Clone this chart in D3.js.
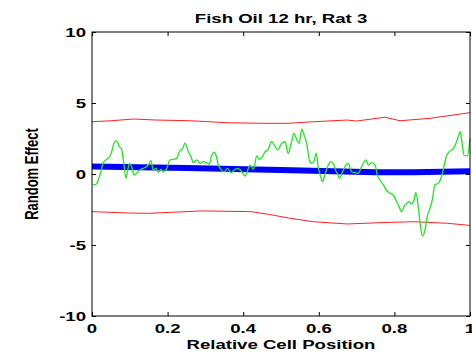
<!DOCTYPE html>
<html>
<head>
<meta charset="utf-8">
<script src="https://cdn.jsdelivr.net/npm/d3@7"></script>
<style>
  body { margin: 0; background: #fff; }
  text { font-family: "Liberation Sans", Arial, sans-serif; font-weight: bold; fill: #000; }
</style>
</head>
<body>
<script>
// tick labels
var xTicks = [0, 0.2, 0.4, 0.6, 0.8, 1];
var yTicks = [-10, -5, 0, 5, 10];

// fitted random effect (thick blue)
var fitX = [0, 0.25, 0.5, 0.75, 0.85, 1];
var fitY = [0.53, 0.42, 0.28, 0.13, 0.13, 0.19];

// upper / lower bands (red)
var upperX = [0, 0.05, 0.11, 0.17, 0.26, 0.36, 0.45, 0.52, 0.585, 0.675, 0.70, 0.775, 0.815, 0.894, 0.974, 1];
var upperY = [3.68, 3.75, 3.87, 3.8, 3.75, 3.61, 3.57, 3.57, 3.68, 3.8, 3.73, 4.0, 3.75, 3.92, 4.22, 4.32];
var lowerX = [0, 0.1, 0.15, 0.29, 0.42, 0.47, 0.52, 0.585, 0.675, 0.76, 0.85, 0.94, 1];
var lowerY = [-2.65, -2.75, -2.77, -2.6, -2.65, -2.85, -3.1, -3.36, -3.52, -3.43, -3.36, -3.47, -3.62];

// observed effect (green)
var obsX = [0.003, 0.012, 0.021, 0.03, 0.039, 0.048, 0.052, 0.058, 0.065, 0.072, 0.078, 0.083, 0.09, 0.093, 0.099,
  0.105, 0.111, 0.118, 0.127, 0.136, 0.149, 0.156, 0.162, 0.169, 0.176, 0.182, 0.189, 0.198, 0.206, 0.215,
  0.224, 0.231, 0.24, 0.246, 0.255, 0.262, 0.268, 0.277, 0.286, 0.294, 0.303, 0.31, 0.317, 0.323, 0.328,
  0.334, 0.341, 0.35, 0.359, 0.368, 0.376, 0.385, 0.394, 0.405, 0.412, 0.418, 0.427, 0.436, 0.442, 0.451,
  0.458, 0.466, 0.475, 0.484, 0.491, 0.502, 0.511, 0.519, 0.528, 0.534, 0.542, 0.548, 0.555, 0.561, 0.568,
  0.575, 0.581, 0.587, 0.593, 0.599, 0.605, 0.61, 0.616, 0.625, 0.631, 0.638, 0.646, 0.649, 0.654, 0.663,
  0.669, 0.678, 0.687, 0.696, 0.705, 0.713, 0.725, 0.731, 0.74, 0.749, 0.755, 0.762, 0.771, 0.78, 0.788,
  0.797, 0.806, 0.813, 0.819, 0.825, 0.833, 0.839, 0.846, 0.852, 0.857, 0.863, 0.868, 0.874, 0.881, 0.887,
  0.894, 0.901, 0.907, 0.916, 0.923, 0.929, 0.937, 0.945, 0.954, 0.963, 0.969, 0.974, 0.978, 0.984, 0.993, 1.0];
var obsY = [-0.77, -0.70, -0.07, 0.80, 1.03, 1.27, 1.57, 2.16, 2.35, 1.92, 1.81, 0.99, -0.30, 0.05, 0.75,
  0.51, -0.07, 0.05, 0.28, 0.40, 0.63, 0.94, 0.28, 0.40, 0.12, 0.33, 0.16, 0.40, 0.99, 1.03,
  1.10, 1.57, 1.81, 2.18, 1.57, 1.22, 0.80, 0.99, 0.75, 0.87, 0.80, 0.70, 1.34, 1.53, 1.34,
  0.63, 0.33, 0.16, 0.40, 0.09, 0.28, 0.40, 0.23, -0.14, 0.28, 0.63, 0.33, 1.27, 1.03, 1.22,
  1.57, 1.74, 2.27, 1.97, 1.69, 2.16, 2.27, 1.46, 2.27, 2.86, 2.39, 2.16, 3.15, 2.75, 2.16,
  0.99, 0.75, 0.87, 1.46, 0.40, -0.19, -0.54, -0.07, 0.63, 0.87, 0.75, 0.16, 0.05, -0.30, 0.16,
  0.51, 0.75, 0.16, 0.09, 0.05, 0.51, 0.99, 0.63, 0.80, 0.63, -0.10, -0.42, -0.77, -1.18, -1.36,
  -1.48, -1.95, -2.35, -2.65, -2.30, -2.07, -1.95, -2.11, -1.83, -1.32, -2.30, -3.47, -4.37, -3.94, -3.00,
  -2.42, -1.71, -0.77, -0.66, -0.30, 0.28, 1.22, 1.57, 1.74, 2.16, 2.63, 2.98, 2.39, 1.34, 1.27, 2.51];

var W = 472, H = 354;
var svg = d3.select("body").append("svg").attr("width", W).attr("height", H);

var x = d3.scaleLinear().domain([0, 1]).range([92, 470]);
var y = d3.scaleLinear().domain([-10, 10]).range([316, 32]);
var sx = 1.43; // horizontally stretched lettering

function zip(xs, ys) { return xs.map(function(d, i) { return [d, ys[i]]; }); }
var line = d3.line().x(d => x(d[0])).y(d => y(d[1]));

var plot = svg.append("g");
plot.append("path").datum(zip(upperX, upperY)).attr("d", line)
  .attr("fill", "none").attr("stroke", "#ff2020").attr("stroke-width", 1);
plot.append("path").datum(zip(lowerX, lowerY)).attr("d", line)
  .attr("fill", "none").attr("stroke", "#ff2020").attr("stroke-width", 1);
plot.append("path").datum(zip(fitX, fitY)).attr("d", line)
  .attr("fill", "none").attr("stroke", "#0000ff").attr("stroke-width", 6);
plot.append("path").datum(zip(obsX, obsY)).attr("d", line.curve(d3.curveMonotoneX))
  .attr("fill", "none").attr("stroke", "#1ee61e").attr("stroke-width", 1.3);

// box with inward ticks on all four sides
svg.append("rect").attr("x", 92).attr("y", 32).attr("width", 378).attr("height", 284)
  .attr("fill", "none").attr("stroke", "#000").attr("stroke-width", 1);
var tk = 4;
svg.append("g").attr("transform", "translate(0,316)")
  .call(d3.axisBottom(x).tickValues(xTicks).tickSize(-tk).tickFormat(""))
  .call(g => g.select(".domain").remove());
svg.append("g").attr("transform", "translate(0,32)")
  .call(d3.axisTop(x).tickValues(xTicks).tickSize(-tk).tickFormat(""))
  .call(g => g.select(".domain").remove());
svg.append("g").attr("transform", "translate(92,0)")
  .call(d3.axisLeft(y).tickValues(yTicks).tickSize(-tk).tickFormat(""))
  .call(g => g.select(".domain").remove());
svg.append("g").attr("transform", "translate(470,0)")
  .call(d3.axisRight(y).tickValues(yTicks).tickSize(-tk).tickFormat(""))
  .call(g => g.select(".domain").remove());

function label(px, py, str, anchor, rot) {
  return svg.append("text")
    .attr("transform", "translate(" + px + "," + py + ") scale(" + sx + ",1)" + (rot ? " rotate(" + rot + ")" : ""))
    .attr("text-anchor", anchor)
    .style("font-size", "13px")
    .text(str);
}

xTicks.forEach(function(t) { label(x(t), 333, d3.format("")(t), "middle"); });
yTicks.forEach(function(t) { label(86, y(t) + 5, t, "end"); });

label(281, 23, "Fish Oil 12 hr, Rat 3", "middle");
label(281, 349, "Relative Cell Position", "middle");
label(38, 174, "Random Effect", "middle", -90);
</script>
</body>
</html>
